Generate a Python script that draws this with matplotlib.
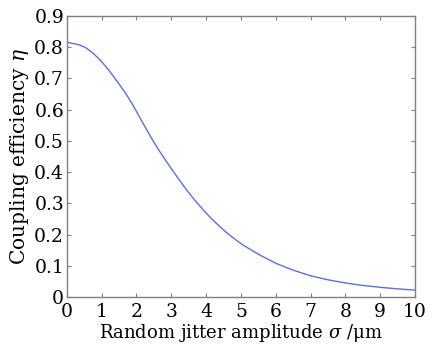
import matplotlib
matplotlib.use("Agg")
import matplotlib.pyplot as plt

sigma = [0, 0.35, 0.55, 0.74, 0.93, 1.12, 1.31, 1.5, 1.7, 1.89, 2.08, 2.27, 2.46,
         2.65, 2.84, 3.04, 3.23, 3.42, 3.61, 3.8, 3.99, 4.19, 4.38, 4.57, 4.76,
         4.95, 5.14, 5.5, 6, 6.5, 7, 7.5, 8, 8.5, 9, 9.5, 10]
eta = [0.816, 0.808, 0.798, 0.782, 0.762, 0.738, 0.711, 0.682, 0.650, 0.616,
       0.578, 0.540, 0.503, 0.469, 0.437, 0.405, 0.375, 0.346, 0.319, 0.294,
       0.270, 0.247, 0.227, 0.208, 0.191, 0.175, 0.161, 0.137, 0.108, 0.086,
       0.068, 0.055, 0.045, 0.037, 0.031, 0.026, 0.022]
xticks = list(range(0, 11))
yticks = [0, 0.1, 0.2, 0.3, 0.4, 0.5, 0.6, 0.7, 0.8, 0.9]
ytick_labels = ["0", "0.1", "0.2", "0.3", "0.4", "0.5", "0.6", "0.7", "0.8", "0.9"]

plt.rcParams['font.family'] = ['DejaVu Serif']
plt.rcParams['mathtext.fontset'] = 'dejavuserif'

fig = plt.figure(figsize=(4.4, 3.48), dpi=100)
ax = fig.add_axes([0.152, 0.1466, 0.791, 0.8074])

ax.plot(sigma, eta, color='#5b72d4', linewidth=1.0)

ax.set_xlim(0, 10)
ax.set_ylim(0, 0.9)
ax.set_xticks(xticks)
ax.set_xticklabels([str(t) for t in xticks])
ax.set_yticks(yticks)
ax.set_yticklabels(ytick_labels)

ax.tick_params(direction='in', length=3, width=0.8, color='#808080',
               top=True, right=True, labelsize=13.5)
ax.tick_params(axis='x', pad=4)
ax.tick_params(axis='y', pad=2)
for s in ax.spines.values():
    s.set_color('#808080')
    s.set_linewidth(1.0)

ax.set_xlabel(r'Random jitter amplitude $\sigma$ /μm', fontsize=13, labelpad=1)
ax.set_ylabel(r'Coupling efficiency $\eta$', fontsize=14.5, labelpad=2)

fig.savefig('out.png', dpi=100)
